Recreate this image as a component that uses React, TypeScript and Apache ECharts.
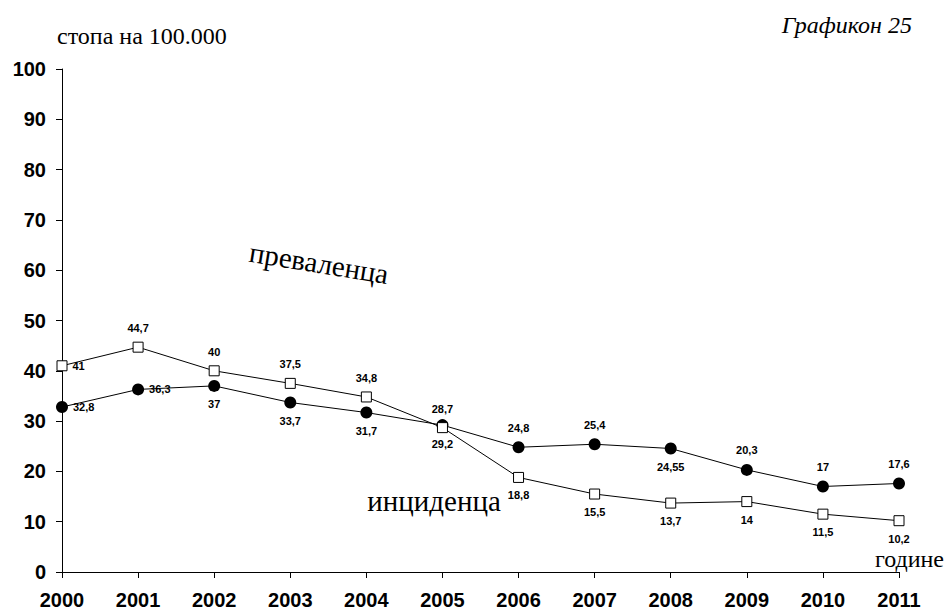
import React, { useEffect, useRef } from "react";
import * as echarts from "echarts";

const years = ["2000", "2001", "2002", "2003", "2004", "2005", "2006", "2007", "2008", "2009", "2010", "2011"];
const squareValues = [41, 44.7, 40, 37.5, 34.8, 28.7, 18.8, 15.5, 13.7, 14, 11.5, 10.2];
const circleValues = [32.8, 36.3, 37, 33.7, 31.7, 29.2, 24.8, 25.4, 24.55, 20.3, 17, 17.6];
const squareLabelPos = ["right", "top", "top", "top", "top", "top", "bottom", "bottom", "bottom", "bottom", "bottom", "bottom"];
const circleLabelPos = ["right", "right", "bottom", "bottom", "bottom", "bottom", "top", "top", "bottom", "top", "top", "top"];
const yTicks = { min: 0, max: 100, interval: 10 };

const fmt = (v: number) => String(v).replace(".", ",");
const SANS = "'Liberation Sans', Arial, sans-serif";
const SERIF = "'Liberation Serif', 'Times New Roman', serif";

function buildData(values: number[], positions: string[]) {
  return values.map((v, i) => ({
    value: v,
    label: {
      position: positions[i],
      distance: positions[i] === "right" ? 5 : positions[i] === "top" ? 8 : 7,
    },
  }));
}

export default function App() {
  const ref = useRef<HTMLDivElement>(null);
  useEffect(() => {
    if (!ref.current) return;
    const chart = echarts.init(ref.current, null, { renderer: "svg" });
    const labelStyle = {
      show: true,
      formatter: (p: any) => fmt(p.value),
      fontFamily: SANS,
      fontWeight: "bold",
      fontSize: 11,
      color: "#000",
    };
    chart.setOption({
      animation: false,
      backgroundColor: "#fff",
      grid: { left: 62, right: 47, top: 69, bottom: 40, containLabel: false },
      xAxis: {
        type: "category",
        data: years,
        boundaryGap: false,
        axisLine: { show: true, lineStyle: { color: "#000", width: 1 } },
        axisTick: { show: true, length: 6, lineStyle: { color: "#000" } },
        axisLabel: { fontFamily: SANS, fontWeight: "bold", fontSize: 20, color: "#000", margin: 18 },
        splitLine: { show: false },
      },
      yAxis: {
        type: "value",
        min: yTicks.min,
        max: yTicks.max,
        interval: yTicks.interval,
        axisLine: { show: true, lineStyle: { color: "#000", width: 1 } },
        axisTick: { show: true, length: 6, lineStyle: { color: "#000" } },
        axisLabel: { fontFamily: SANS, fontWeight: "bold", fontSize: 20, color: "#000", margin: 16 },
        splitLine: { show: false },
      },
      series: [
        {
          type: "line",
          name: "преваленца",
          data: buildData(squareValues, squareLabelPos),
          symbol: "rect",
          symbolSize: 10,
          itemStyle: { color: "#fff", borderColor: "#000", borderWidth: 1 },
          lineStyle: { color: "#000", width: 1 },
          label: labelStyle,
          z: 3,
        },
        {
          type: "line",
          name: "инциденца",
          data: buildData(circleValues, circleLabelPos),
          symbol: "circle",
          symbolSize: 12,
          itemStyle: { color: "#000", borderColor: "#000", borderWidth: 0 },
          lineStyle: { color: "#000", width: 1 },
          label: labelStyle,
          z: 2,
        },
      ],
      graphic: [
        {
          type: "text",
          x: 57,
          y: 36,
          style: { text: "стопа на 100.000", font: `24px ${SERIF}`, fill: "#000", textAlign: "left", textVerticalAlign: "middle" },
        },
        {
          type: "text",
          x: 912,
          y: 25,
          style: { text: "Графикон 25", font: `italic 24px ${SERIF}`, fill: "#000", textAlign: "right", textVerticalAlign: "middle" },
        },
        {
          type: "text",
          x: 319,
          y: 263,
          rotation: -0.162,
          style: { text: "преваленца", font: `29px ${SERIF}`, fill: "#000", textAlign: "center", textVerticalAlign: "middle" },
        },
        {
          type: "text",
          x: 434,
          y: 501,
          style: { text: "инциденца", font: `29px ${SERIF}`, fill: "#000", textAlign: "center", textVerticalAlign: "middle" },
        },
        {
          type: "text",
          x: 944,
          y: 559,
          style: { text: "годинe", font: `24px ${SERIF}`, fill: "#000", textAlign: "right", textVerticalAlign: "middle" },
        },
      ],
    });
    return () => chart.dispose();
  }, []);
  return <div ref={ref} style={{ position: "fixed", left: 0, top: 0, width: 946, height: 612, background: "#fff" }} />;
}
